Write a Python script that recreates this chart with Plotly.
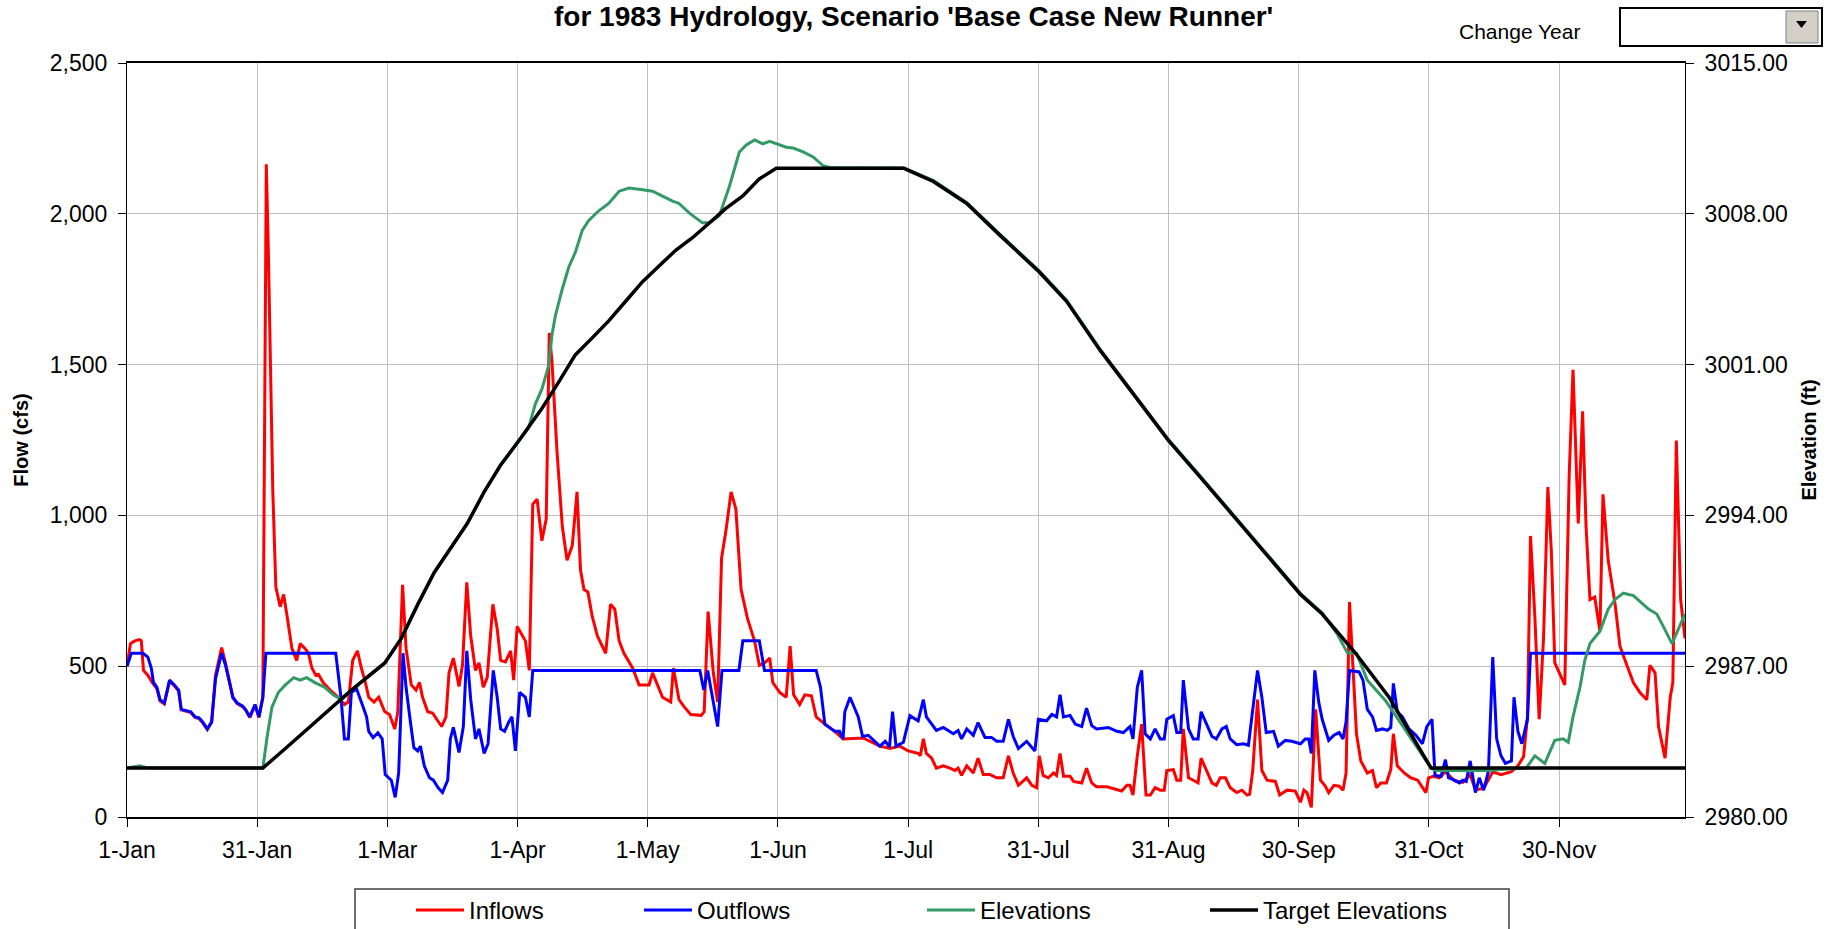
import plotly.graph_objects as go

# day index along the year (0 = 1-Jan)
inflow_day = [0, 0.8, 1.8, 2.9, 3.3, 3.8, 4.8, 5.8, 6.9, 7.6, 8.6, 9.8, 10.9, 11.9, 12.5, 13.6, 14.7,
              15.7, 16.6, 17.4, 18.5, 19.5, 20.4, 21.8, 22.7, 24.4, 25.4, 26.6, 27.3, 28.3, 29.5, 30.4,
              31.3, 32.1, 32.6, 33.6, 34.3, 35.3, 36.1, 36.9, 38.0, 39.1, 39.9, 41.0, 41.8, 42.6, 43.5,
              44.1, 45.2, 46.8, 48.7, 50.1, 51.0, 52.0, 53.1, 54.0, 54.8, 55.7, 56.9, 58.0, 59.4, 60.5,
              61.7, 62.4, 63.5, 64.3, 65.5, 66.6, 67.4, 68.1, 69.3, 70.4, 71.4, 72.5, 73.5, 74.2, 75.2,
              76.5, 77.3, 78.3, 79.2, 80.3, 81.1, 82.1, 83.0, 84.3, 85.3, 86.1, 87.2, 88.4, 89.1, 89.9,
              91.8, 92.7, 93.5, 94.5, 95.6, 96.6, 97.3, 97.9, 99.1, 100.3, 101.4, 102.6, 103.7, 104.5,
              105.3, 106.2, 107.2, 108.4, 110.3, 111.4, 112.4, 113.4, 114.5, 116.5, 118.0, 120.3, 121.1,
              122.2, 123.4, 125.3, 125.9, 127.2, 128.4, 129.9, 132.3, 133.0, 133.9, 135.1, 136.1, 137.0,
              138.0, 139.2, 140.3, 141.5, 143.0, 144.6, 145.7, 146.9, 148.1, 148.8, 150.4, 151.9, 152.8,
              153.6, 155.0, 156.2, 157.7, 158.8, 160.8, 163.1, 165.0, 169.6, 173.5, 175.8, 178.1, 180.0,
              182.3, 182.8, 183.5, 184.2, 185.4, 186.5, 188.1, 189.6, 190.8, 191.5, 192.3, 193.5, 195.0,
              196.1, 197.3, 198.8, 200.4, 201.9, 203.1, 204.2, 205.4, 207.3, 208.5, 209.6, 210.2, 211.1,
              212.3, 213.5, 214.2, 215.0, 215.8, 217.3, 218.1, 220.0, 221.1, 222.3, 223.4, 225.8, 228.1,
              229.2, 230.4, 231.1, 231.8, 232.8, 233.8, 234.8, 235.8, 236.9, 238.1, 239.0, 239.6, 241.1,
              241.9, 242.8, 243.4, 244.6, 245.7, 246.8, 247.5, 248.5, 250.0, 251.0, 251.9, 253.1, 254.2,
              255.7, 256.9, 258.1, 258.7, 259.4, 260.5, 261.5, 262.7, 264.6, 265.6, 267.3, 269.2, 270.4,
              271.2, 271.9, 272.9, 273.9, 275.0, 276.0, 276.9, 278.1, 279.3, 280.2, 280.9, 281.7, 282.6,
              283.3, 284.3, 285.8, 287.0, 287.9, 288.9, 290.2, 291.2, 291.8, 292.7, 294.3, 295.8, 297.4,
              299.3, 299.9, 301.0, 302.4, 303.8, 305.9, 307.8, 309.5, 310.7, 312.6, 314.7, 316.6, 319.0,
              320.5, 321.8, 322.7, 323.4, 324.4, 325.4, 326.4, 327.4, 328.2, 329.0, 330.1, 331.3, 332.3,
              333.2, 334.4, 335.4, 336.2, 337.1, 338.2, 339.4, 340.1, 341.3, 342.9, 344.0, 344.8, 345.9,
              347.1, 348.6, 350.2, 350.9, 352.1, 352.9, 354.4, 355.6, 356.2, 357.0, 358.0, 359.0]
inflow_cfs = [500, 575, 584, 588, 584, 486, 470, 446, 425, 385, 375, 450, 435, 418, 355, 350, 346,
              330, 326, 313, 290, 313, 470, 562, 511, 395, 376, 366, 355, 330, 370, 330,
              397, 2164, 1856, 1078, 762, 697, 738, 665, 559, 519, 575, 559, 543, 494, 470,
              473, 446, 421, 397, 373, 381, 519, 551, 494, 454, 397, 381, 397, 349, 340,
              292, 349, 770, 559, 438, 421, 446, 397, 349, 345, 324, 300, 332, 478, 527,
              433, 503, 778, 600, 486, 511, 430, 462, 705, 624, 519, 514, 551, 454, 632,
              584, 486, 1037, 1054, 916, 989, 1605, 1516, 1208, 964, 851, 900, 1078, 819,
              754, 746, 665, 600, 543, 705, 689, 584, 543, 494, 438, 438, 478,
              438, 397, 381, 494, 389, 365, 340, 337, 349, 681, 478, 381, 859,
              948, 1078, 1021, 754, 657, 584, 503, 511, 527, 446, 413, 397, 567,
              405, 373, 405, 402, 332, 308, 284, 259, 262, 235, 227, 235, 219,
              211, 203, 259, 211, 195, 162, 170, 162, 154, 162, 138, 170, 146,
              195, 141, 141, 130, 130, 203, 146, 105, 130, 105, 97, 203, 138,
              130, 146, 138, 211, 135, 135, 118, 113, 162, 113, 100, 100, 89,
              86, 105, 105, 73, 203, 308, 73, 73, 97, 89, 89, 154, 157,
              122, 122, 292, 130, 122, 113, 195, 162, 113, 105, 130, 130, 97,
              81, 89, 73, 76, 154, 389, 154, 122, 118, 73, 89, 86, 49,
              89, 81, 32, 357, 122, 105, 81, 105, 102, 89, 146, 713, 486,
              276, 186, 146, 154, 97, 113, 113, 157, 276, 170, 146, 130, 122,
              81, 130, 135, 130, 150, 120, 115, 140, 90, 95, 150, 140, 150,
              170, 200, 332, 932, 665, 324, 592, 1094, 883, 511, 478, 438, 1127,
              1483, 973, 1345, 964, 721, 729, 616, 1070, 851, 705, 567, 535, 494,
              446, 413, 389, 503, 478, 300, 195, 397, 446, 1248, 721, 592]

outflow_day = [0, 1.0, 3.7, 4.8, 5.6, 6.1, 6.9, 7.6, 8.6, 9.8, 10.9, 11.9, 12.5, 13.6, 14.7, 15.7,
               16.6, 17.4, 18.5, 19.5, 20.4, 21.8, 22.7, 23.5, 24.4, 25.4, 26.6, 27.3, 28.3, 29.5, 30.4,
               31.3, 32.0, 48.1, 49.3, 50.1, 51.0, 51.7, 52.9, 54.0, 55.2, 55.7, 56.7, 57.8, 58.8, 59.5,
               60.9, 61.8, 62.6, 63.6, 64.3, 65.3, 66.1, 67.0, 67.6, 68.5, 69.7, 70.6, 71.7, 72.7, 73.9,
               74.5, 75.2, 76.5, 77.5, 78.3, 79.2, 80.3, 81.1, 82.3, 83.2, 84.4, 85.3, 86.1, 87.0, 88.0,
               88.7, 89.5, 90.5, 91.8, 92.7, 93.5, 132.0, 132.9, 133.8, 134.9, 136.1, 137.1, 141.0, 141.9,
               145.7, 146.9, 158.8, 159.8, 160.8, 163.1, 164.2, 165.0, 165.4, 166.6, 168.5, 169.5, 170.8,
               173.5, 174.7, 175.7, 176.4, 177.2, 178.9, 180.4, 182.3, 183.5, 184.2, 186.5, 188.1, 190.4,
               191.5, 192.3, 193.5, 195.0, 196.1, 197.7, 199.2, 200.4, 201.9, 203.1, 204.2, 205.4, 207.3,
               209.2, 210.0, 211.9, 213.1, 214.2, 215.0, 215.8, 217.3, 218.5, 220.0, 221.1, 222.3, 223.4,
               226.1, 228.1, 229.6, 231.1, 231.8, 232.8, 233.8, 234.6, 235.8, 236.9, 238.1, 239.0, 239.6,
               241.1, 241.9, 242.8, 243.4, 244.6, 245.7, 246.8, 247.5, 248.5, 250.0, 251.0, 252.3, 253.3,
               254.2, 255.7, 257.3, 258.4, 259.4, 260.5, 261.5, 262.5, 264.2, 265.3, 266.9, 268.4, 270.4,
               271.5, 272.3, 272.9, 273.7, 274.6, 275.4, 276.9, 278.1, 279.3, 280.2, 280.9, 281.7, 283.9,
               284.8, 285.8, 287.0, 287.9, 289.3, 290.4, 291.2, 291.8, 292.7, 293.9, 295.4, 297.0, 298.5,
               299.5, 300.7, 301.4, 302.8, 303.8, 304.5, 305.9, 307.0, 307.8, 308.6, 309.5, 310.7, 311.6,
               312.6, 313.7, 314.7, 315.6, 316.6, 317.6, 319.0, 319.6, 320.5, 321.4, 322.7, 323.4, 359.0]
outflow_cfs = [500, 543, 543, 530, 494, 446, 430, 389, 378, 454, 438, 421, 357, 352, 349, 332,
               329, 316, 292, 316, 459, 543, 503, 454, 397, 378, 368, 357, 332, 373, 332,
               397, 543, 543, 397, 259, 259, 413, 425, 381, 332, 284, 263, 279, 259, 141,
               122, 65, 146, 543, 430, 316, 230, 219, 235, 170, 130, 122, 97, 81, 122,
               259, 297, 214, 300, 551, 389, 259, 292, 211, 243, 486, 397, 292, 284, 316,
               332, 219, 413, 397, 332, 486, 486, 421, 486, 397, 300, 486, 486, 584,
               584, 486, 486, 430, 308, 284, 284, 259, 349, 397, 332, 267, 271,
               235, 251, 232, 349, 235, 248, 336, 319, 389, 332, 287, 297, 276,
               287, 259, 292, 271, 313, 264, 264, 251, 251, 324, 267, 227, 251,
               219, 324, 319, 340, 332, 405, 332, 337, 308, 300, 361, 303, 292,
               297, 284, 280, 300, 259, 430, 486, 276, 259, 292, 259, 259, 324,
               336, 280, 280, 454, 292, 259, 259, 349, 316, 267, 259, 292, 300,
               259, 240, 243, 238, 349, 486, 397, 280, 284, 235, 254, 251, 243,
               259, 259, 211, 486, 381, 324, 254, 271, 280, 259, 316, 486, 481,
               454, 357, 332, 287, 292, 287, 297, 443, 349, 332, 292, 271, 243,
               300, 324, 138, 135, 190, 130, 122, 113, 122, 118, 186, 81, 130,
               89, 151, 530, 259, 203, 178, 186, 397, 284, 243, 324, 543, 543]

elev_day = [0, 2.9, 5.0, 31.3, 32.3, 33.4, 34.9, 36.5, 38.4, 39.9, 41.4, 43.3, 45.6, 47.5, 49.4,
            51.7, 59.4, 63.2, 67.0, 70.8, 74.6, 78.4, 82.3, 86.1, 89.9, 92.5, 94.1, 95.6, 97.2, 97.9,
            98.7, 100.3, 101.8, 103.3, 104.9, 106.4, 108.7, 111.0, 113.4, 115.7, 118.8, 121.1, 123.4,
            125.7, 127.2, 129.6, 132.6, 134.2, 136.5, 138.8, 141.1, 142.7, 144.6, 146.5, 148.1, 149.6,
            151.9, 153.5, 155.8, 158.1, 160.4, 161.9, 179.0, 185.8, 193.5, 201.1, 210.2, 216.5, 224.2,
            231.9, 240.0, 247.3, 255.0, 262.7, 270.4, 275.4, 279.0, 281.2, 283.3, 285.8, 287.7, 290.0,
            300.5, 301.6, 313.2, 322.4, 324.4, 326.7, 329.0, 330.9, 332.1, 333.2, 334.8, 335.9, 337.1,
            339.4, 341.3, 342.9, 344.8, 347.1, 350.6, 352.5, 354.0, 356.0, 359.0]
elev_ft = [2982.27, 2982.38, 2982.27, 2982.27, 2983.74, 2985.10, 2985.79, 2986.13, 2986.47, 2986.35,
           2986.47, 2986.24, 2986.02, 2985.67, 2985.45,
           2985.89, 2987.15, 2988.29, 2989.87, 2991.35, 2992.49, 2993.62, 2995.09, 2996.34, 2997.36,
           2998.04, 2999.18, 2999.86, 3000.99, 3002.35,
           3003.26, 3004.51, 3005.53, 3006.21, 3007.23, 3007.69, 3008.14, 3008.48, 3009.05, 3009.20,
           3009.12, 3009.05, 3008.82,
           3008.59, 3008.48, 3008.03, 3007.58, 3007.58, 3007.92, 3009.27, 3010.87, 3011.20, 3011.43,
           3011.25, 3011.36, 3011.25,
           3011.09, 3011.05, 3010.87, 3010.64, 3010.23, 3010.15, 3010.13, 3009.55, 3008.52, 3007.06,
           3005.35, 3003.99, 3001.72,
           2999.68, 2997.52, 2995.83, 2994.01, 2992.19, 2990.38, 2989.47, 2988.45, 2987.62, 2987.60,
           2986.35, 2985.90, 2985.40,
           2982.27, 2982.16, 2982.16, 2982.27, 2982.84, 2982.49, 2983.56, 2983.63, 2983.47, 2984.65,
           2986.02, 2987.26, 2988.05,
           2988.62, 2989.65, 2990.10, 2990.39, 2990.28, 2989.65, 2989.42, 2988.85, 2988.05, 2989.42]

target_day = [0, 31.3, 36.5, 44.1, 51.7, 59.4, 63.2, 67.0, 70.8, 74.6, 78.4, 82.3, 86.1, 89.9,
              95.6, 99.5, 103.3, 107.2, 111.0, 114.9, 118.8, 122.6, 126.5, 130.3, 134.2, 138.0,
              141.9, 145.7, 149.6, 179.0, 185.8, 193.5, 201.1, 210.2, 216.5, 224.2, 231.9, 240.0,
              247.3, 255.0, 262.7, 270.4, 275.4, 283.1, 290.8, 300.5, 359.0]
target_ft = [2982.27, 2982.27, 2983.18, 2984.54, 2985.89, 2987.15, 2988.29, 2989.87, 2991.35,
             2992.49, 2993.62, 2995.09, 2996.34, 2997.36,
             2998.96, 3000.20, 3001.45, 3002.24, 3003.03, 3003.94, 3004.85, 3005.58, 3006.32,
             3006.89, 3007.58, 3008.25,
             3008.83, 3009.62, 3010.11, 3010.11, 3009.50, 3008.48, 3007.01, 3005.30, 3003.94,
             3001.67, 2999.63, 2997.47,
             2995.78, 2993.96, 2992.14, 2990.33, 2989.42, 2987.60, 2985.56, 2982.27, 2982.27]

tick_days = [0, 30, 60, 90, 120, 150, 180, 210, 240, 270, 300, 330]
tick_labels = ['1-Jan', '31-Jan', '1-Mar', '1-Apr', '1-May', '1-Jun', '1-Jul',
               '31-Jul', '31-Aug', '30-Sep', '31-Oct', '30-Nov']

W, H = 1839, 929
L, R, T, B = 127, 1685, 63, 817
FONT = 'Liberation Sans, Arial, sans-serif'


def px(x):
    return (x - L) / (R - L)


def py(y):
    return (B - y) / (B - T)


fig = go.Figure()
fig.add_trace(go.Scatter(x=inflow_day, y=inflow_cfs, mode='lines', name='Inflows',
                         legendwidth=165, line=dict(color='#ff0000', width=3)))
fig.add_trace(go.Scatter(x=outflow_day, y=outflow_cfs, mode='lines', name='Outflows',
                         legendwidth=220, line=dict(color='#0000ff', width=3)))
fig.add_trace(go.Scatter(x=elev_day, y=elev_ft, mode='lines', name='Elevations', yaxis='y2',
                         legendwidth=220, line=dict(color='#339966', width=3)))
fig.add_trace(go.Scatter(x=target_day, y=target_ft, mode='lines', name='Target Elevations',
                         yaxis='y2', legendwidth=220, line=dict(color='#000000', width=3.5)))

fig.update_layout(
    width=W, height=H,
    margin=dict(l=L, r=W - R, t=T, b=H - B, autoexpand=False),
    paper_bgcolor='white', plot_bgcolor='white',
    font=dict(family=FONT, size=23, color='black'),
    showlegend=True,
    legend=dict(orientation='h', x=px(411), y=py(888), xanchor='left', yanchor='top',
                bgcolor='rgba(0,0,0,0)', borderwidth=0, itemwidth=48,
                font=dict(size=24)),
    xaxis=dict(range=[0, 359], tickvals=tick_days, ticktext=tick_labels,
               showgrid=True, gridcolor='#c0c0c0', gridwidth=1, zeroline=False,
               showline=True, linecolor='black', linewidth=1.5, mirror=True,
               ticks='outside', ticklen=8, tickcolor='black', ticklabelstandoff=4),
    yaxis=dict(range=[0, 2500], dtick=500, tickformat=',d',
               showgrid=True, gridcolor='#c0c0c0', gridwidth=1, zeroline=False,
               showline=True, linecolor='black', linewidth=1,
               ticks='outside', ticklen=8, tickcolor='black', ticklabelstandoff=6,
               title=dict(text='<b>Flow (cfs)</b>', font=dict(size=20), standoff=15)),
    yaxis2=dict(range=[2980, 3015], tick0=2980, dtick=7, tickformat='.2f', overlaying='y',
                side='right', showgrid=False, zeroline=False, showline=True,
                linecolor='black', linewidth=1,
                ticks='outside', ticklen=8, tickcolor='black', ticklabelstandoff=6,
                title=dict(text='<b>Elevation (ft)</b>', font=dict(size=20), standoff=15)),
)

# title line (its upper part is cut off in the original)
fig.add_annotation(text="<b>for 1983 Hydrology, Scenario 'Base Case New Runner'</b>",
                   xref='paper', yref='paper', x=px(913), y=py(17), xanchor='center',
                   yanchor='middle', showarrow=False, font=dict(size=28))

# "Change Year" combo box
fig.add_annotation(text='Change Year', xref='paper', yref='paper', x=px(1519), y=py(32),
                   xanchor='center', yanchor='middle', showarrow=False, font=dict(size=21))
fig.add_shape(type='rect', xref='paper', yref='paper', x0=px(1620), x1=px(1822),
              y0=py(46), y1=py(8), fillcolor='white', line=dict(color='black', width=2))
fig.add_shape(type='rect', xref='paper', yref='paper', x0=px(1786), x1=px(1818),
              y0=py(43), y1=py(11), fillcolor='#d4d0c8', line=dict(color='#808080', width=1))
fig.add_shape(type='path', xref='paper', yref='paper', fillcolor='black', line=dict(width=0),
              path=f'M {px(1796)},{py(21)} L {px(1807)},{py(21)} L {px(1801.5)},{py(28)} Z')

# legend frame
fig.add_shape(type='rect', xref='paper', yref='paper', x0=px(355), x1=px(1509),
              y0=py(945), y1=py(889), line=dict(color='#404040', width=1.5))

fig.write_html('out.html', config={'displayModeBar': False},
               post_script="document.body.style.margin='0';document.body.style.overflow='hidden';")
